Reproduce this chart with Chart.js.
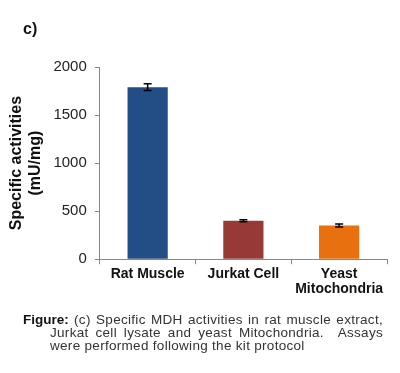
<!DOCTYPE html>
<html>
<head>
<meta charset="utf-8">
<script src="https://cdn.jsdelivr.net/npm/chart.js@4"></script>
<style>
  body { margin: 0; background: #fff; font-family: "Liberation Sans", Arial, sans-serif; }
  .wrap { position: relative; width: 400px; height: 373px; }
  canvas { position: absolute; left: 0; top: 0; }
  .label { position: absolute; left: 23px; top: 20px; font-weight: bold; font-size: 16px; color: #111; }
  .caption { position: absolute; left: 23px; top: 313px; width: 360px; font-size: 13.5px; line-height: 13px; letter-spacing: 0.3px;
             color: #333; text-align: justify; padding-left: 27px; text-indent: -27px; box-sizing: border-box; }
  .caption b { color: #111; letter-spacing: 0; }
</style>
</head>
<body>
<div class="wrap">
  <canvas id="chart" width="400" height="373"></canvas>
  <div class="label">c)</div>
  <div class="caption"><b>Figure:</b> (c) Specific MDH activities in rat muscle extract, Jurkat cell lysate and yeast Mitochondria. &nbsp;Assays were performed following the kit protocol</div>
</div>
<script>
const categories = ['Rat Muscle', 'Jurkat Cell', ['Yeast', 'Mitochondria']]
const activities = [1790, 400, 350]
const errors = [35, 10, 15]
const barColors = ['#234e85', '#973a37', '#e8700e']
const yTicks = [0, 500, 1000, 1500, 2000]

// barras de erro desenhadas por cima das barras
const errorBars = {
  id: 'errorBars',
  afterDatasetsDraw(chart) {
    const ctx = chart.ctx
    const y = chart.scales.y
    chart.getDatasetMeta(0).data.forEach((bar, i) => {
      const top = y.getPixelForValue(activities[i] + errors[i])
      const bot = y.getPixelForValue(activities[i] - errors[i])
      ctx.save()
      ctx.strokeStyle = '#000'
      ctx.lineWidth = 1.5
      ctx.beginPath()
      ctx.moveTo(bar.x, top); ctx.lineTo(bar.x, bot)
      ctx.moveTo(bar.x - 4, top); ctx.lineTo(bar.x + 4, top)
      ctx.moveTo(bar.x - 4, bot); ctx.lineTo(bar.x + 4, bot)
      ctx.stroke()
      ctx.restore()
    })
  }
}

new Chart(document.getElementById('chart'), {
  type: 'bar',
  data: {
    labels: categories,
    datasets: [{
      data: activities,
      backgroundColor: barColors,
      categoryPercentage: 1,
      barPercentage: 0.42
    }]
  },
  options: {
    responsive: false,
    animation: false,
    layout: { padding: { left: 7, right: 13, top: 67, bottom: 74 } },
    plugins: { legend: { display: false }, tooltip: { enabled: false } },
    scales: {
      x: {
        grid: { drawOnChartArea: false, color: '#888', tickLength: 5, offset: true },
        border: { color: '#888' },
        ticks: { color: '#111', font: { family: 'Liberation Sans', size: 14, weight: 'bold', lineHeight: 1.1 }, padding: 2, maxRotation: 0 }
      },
      y: {
        min: 0, max: 2000,
        afterBuildTicks: axis => { axis.ticks = yTicks.map(v => ({ value: v })) },
        grid: { drawOnChartArea: false, color: '#888', tickLength: 5 },
        border: { color: '#888' },
        ticks: { color: '#222', font: { family: 'Liberation Sans', size: 15 }, padding: 8, callback: v => String(v) },
        title: {
          display: true,
          text: ['Specific activities', '(mU/mg)'],
          color: '#111',
          font: { family: 'Liberation Sans', size: 16, weight: 'bold', lineHeight: 1.2 },
          padding: { top: 0, bottom: 0 }
        }
      }
    }
  },
  plugins: [errorBars]
})
</script>
</body>
</html>
